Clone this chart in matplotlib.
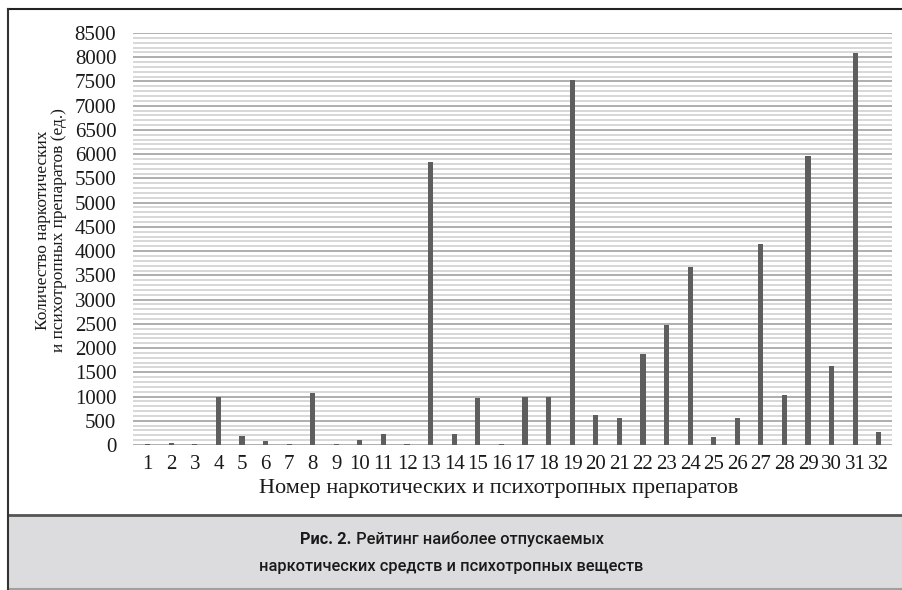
import numpy as np
import matplotlib
matplotlib.use("Agg")
import matplotlib.pyplot as plt
from matplotlib.lines import Line2D
from matplotlib.patches import Rectangle

# --- data
drug_no = list(range(1, 33))
counts = [20, 50, 20, 980, 180, 90, 20, 1080, 30, 110, 220, 20, 5830, 220, 960, 20,
          1000, 980, 7530, 610, 560, 1870, 2480, 3680, 170, 550, 4140, 1030, 5960,
          1640, 8080, 270]
y_ticks = list(range(0, 8501, 500))

ylabel_txt = "Количество наркотических\nи психотропных препаратов (ед.)"
xlabel_txt = "Номер наркотических и психотропных препаратов"
cap_bold = "Рис. 2."
cap_line1 = " Рейтинг наиболее отпускаемых"
cap_line2 = "наркотических средств и психотропных веществ"

serif = ["Liberation Serif", "DejaVu Serif"]

fig = plt.figure(figsize=(9.02, 5.90), dpi=100)
W, H = 902.0, 590.0

ax = fig.add_axes([133 / W, 1 - 445 / H, (892 - 133) / W, (445 - 33) / H])
ax.bar(drug_no, counts, width=0.22, color="#5e5e5e", zorder=3)
ax.set_xlim(0.38, 32.56)
ax.set_ylim(0, 8500)

# gridlines: every 100 light, every 500 darker
ax.set_yticks(y_ticks)
ax.set_yticks(np.arange(0, 8501, 100), minor=True)
ax.grid(axis="y", which="minor", color="#d4d4d4", lw=1.3, zorder=0)
ax.grid(axis="y", which="major", color="#a8a8a8", lw=1.3, zorder=1)
ax.tick_params(axis="y", which="both", length=0, pad=12, labelsize=15)
ax.tick_params(axis="x", length=0, pad=7, labelsize=15)
ax.set_xticks(drug_no)
ax.set_xticklabels([str(i) for i in drug_no])
for lab in ax.get_xticklabels() + ax.get_yticklabels():
    lab.set_family(serif)
    lab.set_color("#1a1a1a")
for s in ax.spines.values():
    s.set_visible(False)

fig.text(51 / W, 1 - 230 / H, ylabel_txt, rotation=90, ha="center", va="center",
         family=serif, fontsize=12.5, color="#1a1a1a", linespacing=1.05,
         multialignment="center")
fig.text(499 / W, 1 - 488 / H, xlabel_txt, ha="center", va="center",
         family=serif, fontsize=16, color="#1a1a1a")

# caption box
fig.patches.append(Rectangle((8 / W, 0), 1, (590 - 515) / H, transform=fig.transFigure,
                             facecolor="#dcdcde", edgecolor="none", zorder=0))
fig.lines.append(Line2D([8 / W, 1], [1 - 515 / H] * 2, transform=fig.transFigure,
                        color="#555555", lw=2))
fig.lines.append(Line2D([8 / W, 1], [1 - 589 / H] * 2, transform=fig.transFigure,
                        color="#a0a0a0", lw=1.5))
# outer frame
fig.lines.append(Line2D([8 / W, 1], [1 - 9 / H] * 2, transform=fig.transFigure,
                        color="#222222", lw=1.5))
fig.lines.append(Line2D([8 / W, 8 / W], [0, 1 - 9 / H], transform=fig.transFigure,
                        color="#333333", lw=1.5))

cap_font = ["Roboto", "DejaVu Sans"]
cap_size = 11.8
t1 = fig.text(451 / W, 1 - 539 / H, cap_bold + cap_line1, ha="center", va="center",
              family=cap_font, fontsize=cap_size, color="#1a1a1a", alpha=0)
fig.canvas.draw()
bb = t1.get_window_extent()
tb = fig.text(bb.x0 / W, 1 - 539 / H, cap_bold, ha="left", va="center",
              family=cap_font, fontsize=cap_size, fontweight="bold", color="#1a1a1a")
fig.canvas.draw()
bb2 = tb.get_window_extent()
fig.text(bb2.x1 / W, 1 - 539 / H, cap_line1, ha="left", va="center",
         family=cap_font, fontsize=cap_size, fontweight="medium", color="#1a1a1a")
fig.text(451 / W, 1 - 566 / H, cap_line2, ha="center", va="center",
         family=cap_font, fontsize=cap_size, fontweight="medium", color="#1a1a1a")

fig.savefig("out.png", dpi=100)
